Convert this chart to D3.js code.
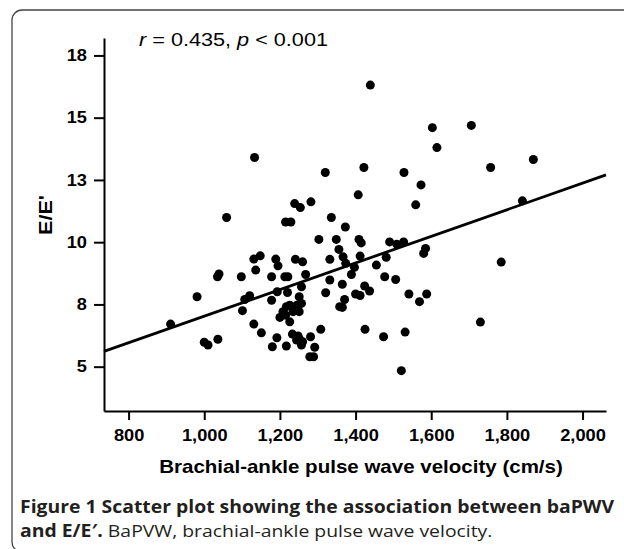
<!DOCTYPE html>
<html>
<head>
<meta charset="utf-8">
<script src="https://cdn.jsdelivr.net/npm/d3@7"></script>
<style>
  body { margin: 0; background: #fff; }
  svg { display: block; }
  .axis path, .axis line { stroke: #000; stroke-width: 2; }
  .axis text { font-family: "Liberation Sans", Arial, sans-serif; font-weight: bold; font-size: 16px; fill: #000; }
</style>
</head>
<body>
<div id="chart"></div>
<script>
// baPWV (cm/s) against E/E'
var bapwv = [911, 981, 1000, 1010, 1036, 1035, 1039, 1059, 1098, 1101,
  1107, 1120, 1131, 1131, 1148, 1136, 1133, 1151, 1178, 1178,
  1180, 1189, 1195, 1193, 1192, 1213, 1221, 1215, 1229, 1220,
  1217, 1226, 1208, 1215, 1200, 1226, 1235, 1245, 1257, 1251,
  1217, 1233, 1248, 1252, 1244, 1260, 1257, 1239, 1254, 1282,
  1241, 1260, 1251, 1257, 1268, 1281, 1292, 1279, 1289, 1308,
  1303, 1320, 1336, 1349, 1332, 1332, 1321, 1356, 1367, 1358,
  1365, 1365, 1371, 1373, 1374, 1389, 1397, 1400, 1412, 1407,
  1409, 1415, 1412, 1422, 1424, 1437, 1425, 1439, 1455, 1474,
  1477, 1481, 1490, 1509, 1527, 1506, 1521, 1528, 1531, 1541,
  1559, 1573, 1569, 1580, 1585, 1588, 1603, 1615, 1706, 1730,
  1757, 1785, 1841, 1870];

var ee = [6.71, 7.81, 5.98, 5.87, 6.10, 8.61, 8.72, 10.99, 8.61, 7.25,
  7.70, 7.85, 6.71, 9.32, 9.45, 8.88, 13.40, 6.36, 8.61, 7.67,
  5.80, 9.32, 9.05, 8.01, 6.16, 8.61, 8.61, 10.81, 10.81, 7.98,
  7.41, 7.47, 7.21, 7.07, 6.98, 6.80, 7.21, 7.47, 7.54, 7.21,
  5.83, 6.31, 6.23, 6.10, 6.07, 6.00, 5.87, 11.55, 11.39, 11.62,
  9.31, 9.21, 7.81, 8.21, 8.70, 6.20, 5.78, 5.40, 5.40, 6.50,
  10.11, 12.80, 10.99, 10.11, 9.31, 8.48, 7.97, 9.71, 9.41, 7.41,
  8.31, 7.38, 7.70, 10.61, 9.15, 8.70, 8.99, 7.92, 7.86, 11.90,
  10.11, 9.97, 9.44, 13.00, 8.24, 8.04, 6.50, 16.31, 9.08, 6.20,
  8.61, 9.39, 10.01, 9.92, 10.01, 8.50, 4.84, 12.80, 6.39, 7.92,
  11.50, 12.30, 7.61, 9.55, 9.75, 7.92, 14.60, 13.80, 14.69, 6.79,
  13.00, 9.20, 11.66, 13.32];

var xTicks = [800, 1000, 1200, 1400, 1600, 1800, 2000];
var yTicks = [5, 7.5, 10, 12.5, 15, 17.5];

// fitted line, E/E' = a + b * baPWV
var fitA = 1.69, fitB = 0.00534;

var width = 624, height = 549;
var margin = {top: 38, right: 18, bottom: 138, left: 104};
var sx = 1.14; // the source figure is a little wider than plain Arial

var svg = d3.select("#chart").append("svg")
    .attr("width", width)
    .attr("height", height);

// rounded frame round the whole figure
svg.append("rect")
    .attr("x", 12)
    .attr("y", 10)
    .attr("width", 640)
    .attr("height", 542)
    .attr("rx", 10)
    .attr("fill", "none")
    .attr("stroke", "#444")
    .attr("stroke-width", 1.3);

var x = d3.scaleLinear()
    .domain([735, 2062])
    .range([margin.left, width - margin.right]);

var y = d3.scaleLinear()
    .domain([3.22, 18.2])
    .range([height - margin.bottom, margin.top]);

var xAxis = d3.axisBottom(x)
    .tickValues(xTicks)
    .tickSize(9)
    .tickSizeOuter(0)
    .tickPadding(10)
    .tickFormat(d3.format(",d"));

var yAxis = d3.axisLeft(y)
    .tickValues(yTicks)
    .tickSize(10)
    .tickSizeOuter(0)
    .tickFormat(d3.format(".0f"));

var gX = svg.append("g")
    .attr("class", "axis axis--x")
    .attr("transform", "translate(0," + (height - margin.bottom) + ")")
    .call(xAxis);

gX.selectAll(".tick text")
    .attr("transform", "scale(" + sx + ",1)");

var gY = svg.append("g")
    .attr("class", "axis axis--y")
    .attr("transform", "translate(" + margin.left + ",0)")
    .call(yAxis);

gY.selectAll(".tick text")
    .attr("x", 0)
    .attr("transform", "translate(-17,0) scale(" + sx + ",1)");

// regression line across the whole x range
var lineX = x.domain();
svg.append("line")
    .attr("x1", x(lineX[0]))
    .attr("y1", y(fitA + fitB * lineX[0]))
    .attr("x2", x(lineX[1]))
    .attr("y2", y(fitA + fitB * lineX[1]))
    .attr("stroke", "#000")
    .attr("stroke-width", 2.8);

svg.append("g").selectAll("circle")
    .data(d3.range(bapwv.length))
    .enter().append("circle")
    .attr("cx", function (i) { return x(bapwv[i]); })
    .attr("cy", function (i) { return y(ee[i]); })
    .attr("r", 4.5)
    .attr("fill", "#000");

// axis titles
svg.append("text")
    .attr("transform", "translate(361,473) scale(" + sx + ",1)")
    .attr("text-anchor", "middle")
    .style("font-family", "'Liberation Sans', Arial, sans-serif")
    .style("font-weight", "bold")
    .style("font-size", "18px")
    .text("Brachial-ankle pulse wave velocity (cm/s)");

svg.append("text")
    .attr("transform", "translate(52,215) rotate(-90) scale(" + sx + ",1)")
    .attr("text-anchor", "middle")
    .style("font-family", "'Liberation Sans', Arial, sans-serif")
    .style("font-weight", "bold")
    .style("font-size", "19px")
    .text("E/E'");

// r and p in the top corner
var stat = svg.append("text")
    .attr("transform", "translate(139,46) scale(" + sx + ",1)")
    .style("font-family", "'Liberation Sans', Arial, sans-serif")
    .style("font-size", "19px");
stat.append("tspan").style("font-style", "italic").text("r");
stat.append("tspan").text(" = 0.435, ");
stat.append("tspan").style("font-style", "italic").text("p");
stat.append("tspan").text(" < 0.001");

// caption
var cap = svg.append("g")
    .style("font-family", "'Open Sans', sans-serif")
    .style("font-size", "17px")
    .style("fill", "#231f20");

cap.append("text")
    .attr("transform", "translate(20,513) scale(" + sx + ",1)")
    .style("font-weight", "bold")
    .text("Figure 1 Scatter plot showing the association between baPWV");

var cap2 = cap.append("text")
    .attr("transform", "translate(20,537) scale(" + sx + ",1)");
cap2.append("tspan").style("font-weight", "bold").text("and E/E\u2032.");
cap2.append("tspan").text(" BaPVW, brachial-ankle pulse wave velocity.");
</script>
</body>
</html>
